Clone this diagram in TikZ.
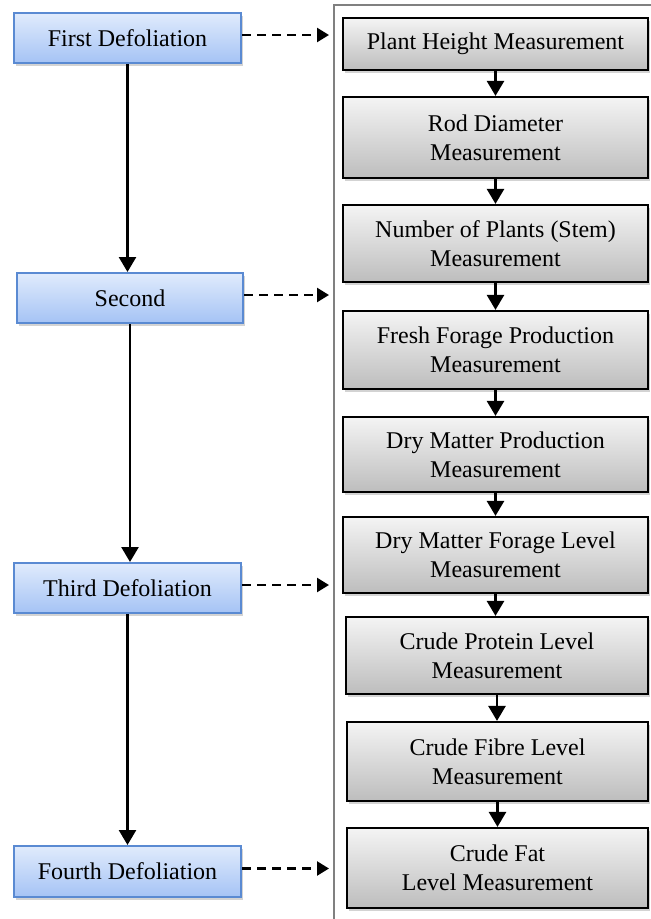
\documentclass[tikz,border=0pt]{standalone}
\usepackage{fontspec}
\setmainfont{Liberation Serif}
\usetikzlibrary{arrows.meta,shadows}
\definecolor{defTop}{HTML}{E0EBFC}
\definecolor{defBot}{HTML}{A5C3F5}
\definecolor{defLine}{HTML}{5A8AD2}
\definecolor{measTop}{HTML}{F4F4F4}
\definecolor{measBot}{HTML}{BDBDBD}
\tikzset{
  defol/.style={draw=defLine,line width=2pt,top color=defTop,bottom color=defBot,
    minimum width=227pt,minimum height=50pt,inner sep=0pt,align=center,
    drop shadow={opacity=0.35,shadow xshift=2pt,shadow yshift=-3pt}},
  meas/.style={draw=black,line width=2.2pt,top color=measTop,bottom color=measBot,
    minimum width=305pt,minimum height=78pt,inner sep=0pt,align=center,
    drop shadow={opacity=0.35,shadow xshift=2pt,shadow yshift=-3pt}},
  tip/.style={-{Triangle[length=15pt,width=17pt]},line width=2.6pt},
  dashtip/.style={-{Triangle[length=12pt,width=14pt]},line width=2.4pt,dash pattern=on 9pt off 6pt},
}
\begin{document}
\begin{tikzpicture}[x=1pt,y=-1pt,font=\fontsize{24}{29}\selectfont]
\useasboundingbox (0,0) rectangle (651,919);
% frame round the measurements
\draw[gray,line width=1.6pt](334,919)--(334,5)--(651,5);
\coordinate(fr) at (329,0);
% defoliations
\node[defol](L1) at (127.5,38) {First Defoliation};
\node[defol,minimum width=226pt](L2) at (130,298) {Second};
\node[defol](L3) at (127.5,588) {Third Defoliation};
\node[defol,minimum height=51pt](L4) at (127.5,871.5) {Fourth Defoliation};
% measurements
\node[meas,minimum height=52pt](R1) at (495.5,44) {Plant Height Measurement};
\node[meas,minimum height=81pt](R2) at (495.5,137.5) {Rod Diameter\\Measurement};
\node[meas,minimum height=77pt](R3) at (495.5,243.5) {Number of Plants (Stem)\\Measurement};
\node[meas](R4) at (495.5,350) {Fresh Forage Production\\Measurement};
\node[meas,minimum height=75pt](R5) at (495.5,454.5) {Dry Matter Production\\Measurement};
\node[meas,minimum height=76pt](R6) at (495.5,555) {Dry Matter Forage Level\\Measurement};
\node[meas,minimum width=302pt,minimum height=77pt](R7) at (497,655.5) {Crude Protein Level\\Measurement};
\node[meas,minimum width=301pt,minimum height=79pt](R8) at (497.5,761.5) {Crude Fibre Level\\Measurement};
\node[meas,minimum width=301pt,minimum height=80pt](R9) at (497.5,868) {Crude Fat\\Level Measurement};
% left chain
\draw[tip](L1.south)--(L1.south |- L2.north);
\draw[tip](L2.south)--(L2.south |- L3.north);
\draw[tip](L3.south)--(L3.south |- L4.north);
% right chain
\foreach \a/\b in {R1/R2,R2/R3,R3/R4,R4/R5,R5/R6,R6/R7,R7/R8,R8/R9}
  \draw[tip](\a.south)--(\a.south |- \b.north);
% dashed links
\foreach \l in {L1,L2,L3,L4}
  \draw[dashtip]([yshift=3pt]\l.east)--([yshift=3pt]\l.east -| fr);
\end{tikzpicture}
\end{document}
